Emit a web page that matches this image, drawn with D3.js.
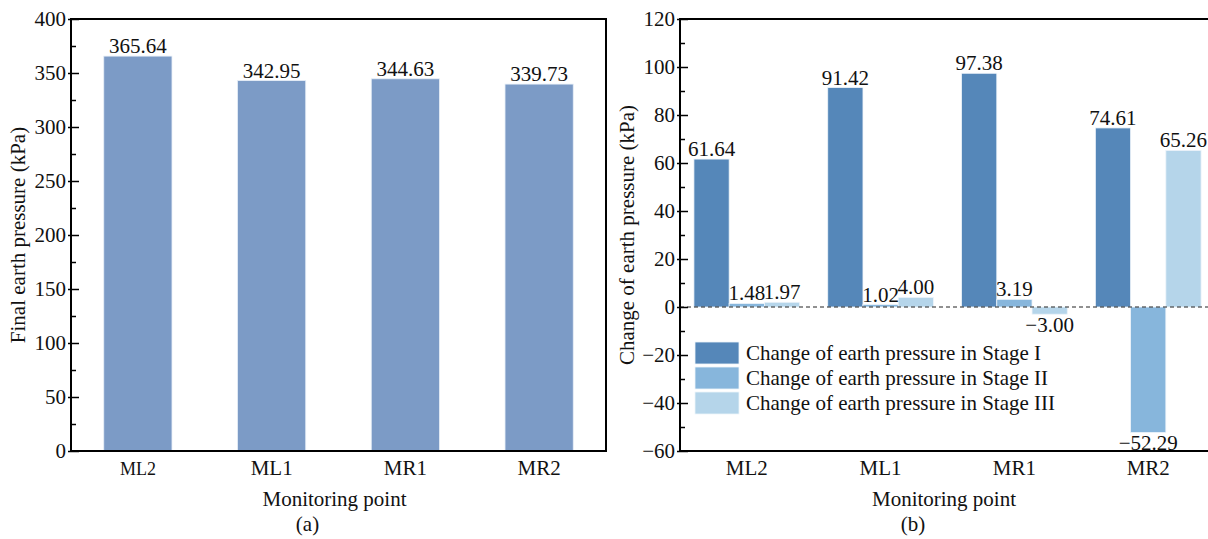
<!DOCTYPE html>
<html>
<head>
<meta charset="utf-8">
<script src="https://cdn.jsdelivr.net/npm/d3@7"></script>
<style>
  body { margin: 0; background: #fff; }
  svg { display: block; font-family: "Liberation Serif", "Times New Roman", serif; }
  .axis path { display: none; }
  .axis line { stroke: #000; stroke-width: 1.5; }
  .axis text { font-size: 21px; fill: #111; font-family: "Liberation Serif", "Times New Roman", serif; }
</style>
</head>
<body>
<div id="chart"></div>
<script>
// data
const points = ['ML2', 'ML1', 'MR1', 'MR2'];
const finalPressure = [365.64, 342.95, 344.63, 339.73];
const stages = ['Change of earth pressure in Stage I', 'Change of earth pressure in Stage II', 'Change of earth pressure in Stage III'];
const stageI = [61.64, 91.42, 97.38, 74.61];
const stageII = [1.48, 1.02, 3.19, -52.29];
const stageIII = [1.97, 4.00, -3.00, 65.26];
const leftTicks = [0, 50, 100, 150, 200, 250, 300, 350, 400];
const rightTicks = [-60, -40, -20, 0, 20, 40, 60, 80, 100, 120];

const stageColors = ['#5587b9', '#87b6dc', '#b5d5ea'];
const fmt = d3.format('.2f');
const fs = 21;

const svg = d3.select('#chart').append('svg')
  .attr('width', 1208)
  .attr('height', 539);

const h = 432;
const w = 535;

function yAxes(g, y, major, minorStep) {
  // minor ticks, inward
  const minor = d3.range(y.domain()[0], y.domain()[1] + 0.001, minorStep)
    .filter((v) => major.indexOf(v) < 0);
  g.append('g').attr('class', 'axis')
    .call(d3.axisLeft(y).tickValues(minor).tickSizeInner(-5).tickSizeOuter(0).tickFormat(''));
  // major ticks cross the axis line
  g.append('g').attr('class', 'axis')
    .call(d3.axisLeft(y).tickValues(major).tickSizeInner(-8).tickSizeOuter(0).tickPadding(5));
  g.append('g').attr('class', 'axis')
    .call(d3.axisLeft(y).tickValues(major).tickSizeInner(3).tickSizeOuter(0).tickFormat(''));
}

function frame(g) {
  g.append('rect')
    .attr('width', w).attr('height', h)
    .attr('fill', 'none').attr('stroke', '#000').attr('stroke-width', 2);
}

function label(g, x, y, txt, size) {
  return g.append('text')
    .attr('x', x)
    .attr('y', y)
    .attr('text-anchor', 'middle')
    .attr('font-size', size || fs)
    .attr('fill', '#111')
    .text(txt);
}

// ---------- panel (a)
const ga = svg.append('g').attr('transform', 'translate(71, 19)');

const xa = d3.scaleBand().domain(points).range([0, w])
  .paddingInner(0.49).paddingOuter(0.245);
const ya = d3.scaleLinear().domain([0, 400]).range([h, 0]);

ga.selectAll('rect.bar')
  .data(points)
  .enter()
  .append('rect')
  .attr('class', 'bar')
  .attr('x', (d) => xa(d))
  .attr('width', xa.bandwidth())
  .attr('y', (d, i) => ya(finalPressure[i]))
  .attr('height', (d, i) => ya(0) - ya(finalPressure[i]))
  .attr('fill', '#7c9bc6')
  .attr('stroke', '#e6eef7')
  .attr('stroke-width', 0.8);

ga.selectAll('text.val')
  .data(points)
  .enter()
  .append('text')
  .attr('class', 'val')
  .attr('x', (d) => xa(d) + xa.bandwidth() / 2)
  .attr('y', (d, i) => ya(finalPressure[i]) - 3)
  .attr('text-anchor', 'middle')
  .attr('font-size', fs)
  .attr('fill', '#111')
  .text((d, i) => fmt(finalPressure[i]));

yAxes(ga, ya, leftTicks, 25);
frame(ga);

ga.selectAll('text.cat')
  .data(points)
  .enter()
  .append('text')
  .attr('class', 'cat')
  .attr('x', (d) => xa(d) + xa.bandwidth() / 2)
  .attr('y', h + 24)
  .attr('text-anchor', 'middle')
  .attr('font-size', (d, i) => (i === 0 ? 18 : fs))
  .attr('fill', '#111')
  .text((d) => d);

label(ga, w / 2 - 4, h + 55, 'Monitoring point');
label(ga, w / 2 - 31, h + 80, '(a)');

ga.append('text')
  .attr('transform', `translate(-46, ${h / 2}) rotate(-90)`)
  .attr('text-anchor', 'middle')
  .attr('font-size', fs)
  .attr('fill', '#111')
  .text('Final earth pressure (kPa)');

// ---------- panel (b)
const gb = svg.append('g').attr('transform', 'translate(680, 19)');

const xb = d3.scaleBand().domain(points).range([0, w])
  .paddingInner(0.21).paddingOuter(0.104);
const xs = d3.scaleBand().domain([0, 1, 2]).range([0, xb.bandwidth()]);
const yb = d3.scaleLinear().domain([-60, 120]).range([h, 0]);

const series = [stageI, stageII, stageIII];
const cells = [];
points.forEach((p, i) => {
  series.forEach((s, k) => {
    cells.push({ p, k, v: s[i] });
  });
});

gb.selectAll('rect.bar')
  .data(cells)
  .enter()
  .append('rect')
  .attr('class', 'bar')
  .attr('x', (d) => xb(d.p) + xs(d.k))
  .attr('width', xs.bandwidth())
  .attr('y', (d) => yb(Math.max(0, d.v)))
  .attr('height', (d) => Math.abs(yb(d.v) - yb(0)))
  .attr('fill', (d) => stageColors[d.k])
  .attr('stroke', '#eef4fa')
  .attr('stroke-width', 0.8);

gb.selectAll('text.val')
  .data(cells)
  .enter()
  .append('text')
  .attr('class', 'val')
  .attr('x', (d) => xb(d.p) + xs(d.k) + xs.bandwidth() / 2)
  .attr('y', (d) => (d.v >= 0 ? yb(d.v) - 3 : yb(d.v) + 18))
  .attr('text-anchor', 'middle')
  .attr('font-size', fs)
  .attr('fill', '#111')
  .text((d) => fmt(d.v));

// zero line
gb.append('line')
  .attr('x1', 0).attr('x2', w)
  .attr('y1', yb(0)).attr('y2', yb(0))
  .attr('stroke', '#222')
  .attr('stroke-width', 1)
  .attr('stroke-dasharray', '4,3');

yAxes(gb, yb, rightTicks, 10);
frame(gb);

gb.selectAll('text.cat')
  .data(points)
  .enter()
  .append('text')
  .attr('class', 'cat')
  .attr('x', (d) => xb(d) + xb.bandwidth() / 2)
  .attr('y', h + 24)
  .attr('text-anchor', 'middle')
  .attr('font-size', fs)
  .attr('fill', '#111')
  .text((d) => d);

label(gb, 264, h + 55, 'Monitoring point');
label(gb, 233, h + 80, '(b)');

gb.append('text')
  .attr('transform', `translate(-46, ${h / 2}) rotate(-90)`)
  .attr('text-anchor', 'middle')
  .attr('font-size', fs)
  .attr('fill', '#111')
  .text('Change of earth pressure (kPa)');

// legend
const legend = gb.append('g').attr('transform', 'translate(15, 323)');
const row = legend.selectAll('g')
  .data(stages)
  .enter()
  .append('g')
  .attr('transform', (d, i) => `translate(0, ${i * 25})`);

row.append('rect')
  .attr('width', 44)
  .attr('height', 22)
  .attr('fill', (d, i) => stageColors[i])
  .attr('stroke', '#eef4fa')
  .attr('stroke-width', 0.8);

row.append('text')
  .attr('x', 51)
  .attr('y', 11)
  .attr('dy', '0.35em')
  .attr('font-size', fs)
  .attr('fill', '#111')
  .text((d) => d);
</script>
</body>
</html>
